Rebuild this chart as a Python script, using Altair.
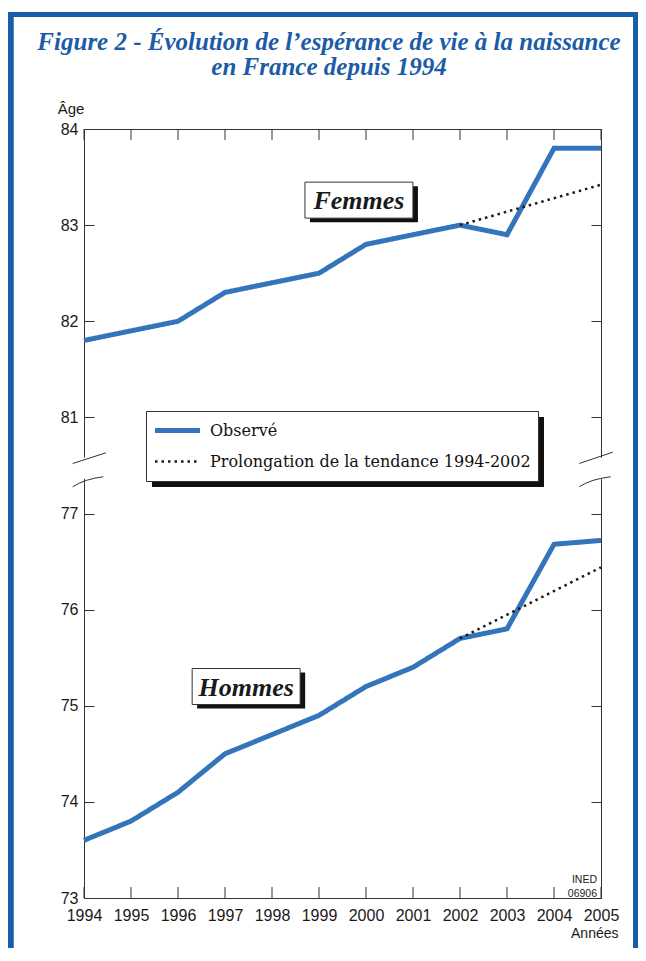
import altair as alt
import pandas as pd

# ---------------- data ----------------
years = list(range(1994, 2006))
femmes_obs = [81.8, 81.9, 82.0, 82.3, 82.4, 82.5, 82.8, 82.9, 83.0, 82.9, 83.8, 83.8]
hommes_obs = [73.6, 73.8, 74.1, 74.5, 74.7, 74.9, 75.2, 75.4, 75.7, 75.8, 76.68, 76.72]
trend_years = [2002, 2005]
femmes_trend = [83.0, 83.42]
hommes_trend = [75.7, 76.44]
series = ["Observé", "Prolongation de la tendance 1994-2002"]
label_names = ["Femmes", "Hommes"]
label_years = [1999.85, 1997.45]
label_values = [83.26, 75.2]
# axis positions (after the break, 78..81 stand for 81..84)
y_tick_values = [73, 74, 75, 76, 77, 78, 79, 80, 81]
break_sides = [1994, 2005]
title_lines = ["Figure 2 - Évolution de l’espérance de vie à la naissance",
               "en France depuis 1994"]
source_lines = ["INED", "06906"]

BLUE = "#3474ba"
FRAME_BLUE = "#1660ab"
TITLE_BLUE = "#1c5ca6"
DARK = "#333333"
W, H = 517, 769
TICK = 11

# Femmes values are drawn 3 units lower: the axis is broken between 77 and 81
calc = "datum.sexe == 'Femmes' ? datum.valeur - 3 : datum.valeur"

obs_df = pd.DataFrame({
    "annee": years + years,
    "valeur": femmes_obs + hommes_obs,
    "sexe": ["Femmes"] * len(years) + ["Hommes"] * len(years),
    "serie": series[0],
})
trend_df = pd.DataFrame({
    "annee": trend_years + trend_years,
    "valeur": femmes_trend + hommes_trend,
    "sexe": ["Femmes"] * len(trend_years) + ["Hommes"] * len(trend_years),
    "serie": series[1],
})
lab_df = pd.DataFrame({"sexe": label_names, "annee": label_years, "valeur": label_values})
side_df = pd.DataFrame({"annee": break_sides})
years_df = pd.DataFrame({"annee": years})
one = pd.DataFrame({"k": [0]})

xs = alt.Scale(domain=[1994, 2005], nice=False, zero=False)
ys = alt.Scale(domain=[73, 81], nice=False, zero=False)

common_axis = dict(domain=False, grid=False, tickColor=DARK, tickWidth=1,
                   labelFont="Liberation Sans", labelFontSize=16, labelColor="#1a1a1a")

axis_bottom = alt.Axis(orient="bottom", values=years, format="d", ticks=False,
                       labelPadding=9, labelFlush=False, labelOverlap=False,
                       title="Années", titleX=534, titleY=39, titleAlign="right",
                       titleBaseline="alphabetic", titleFont="Liberation Sans",
                       titleFontSize=14, titleFontWeight="normal", titleColor="#1a1a1a",
                       domain=False, grid=False, labelFont="Liberation Sans",
                       labelFontSize=16, labelColor="#1a1a1a")
axis_left = alt.Axis(orient="left", values=y_tick_values, offset=-10, tickSize=10,
                     labelPadding=6,
                     labelExpr="datum.value > 77.5 ? datum.value + 3 : datum.value",
                     title="Âge", titleAngle=0, titleX=-23.5, titleY=-16,
                     titleAlign="center", titleBaseline="alphabetic",
                     titleFont="Liberation Sans", titleFontSize=15,
                     titleFontWeight="normal", titleColor="#1a1a1a",
                     **common_axis)
axis_right = alt.Axis(orient="right", values=y_tick_values, offset=-10, tickSize=10,
                      labels=False, title=None, **common_axis)

legend = alt.Legend(title=None, orient="none", legendX=62, legendY=282,
                    direction="vertical", symbolType="stroke", symbolSize=2025,
                    clipHeight=26, rowPadding=5, padding=6.5, labelOffset=7.5,
                    labelFont="DejaVu Serif", labelFontSize=16, labelColor="#111111",
                    labelLimit=600, strokeColor=DARK, fillColor="white")

color = alt.Color("serie:N", scale=alt.Scale(domain=series, range=[BLUE, "#1a1a1a"]), legend=legend)
dash = alt.StrokeDash("serie:N", scale=alt.Scale(domain=series, range=[[1, 0], [2.5, 4]]), legend=legend)
sw = alt.StrokeWidth("serie:N", scale=alt.Scale(type="ordinal", domain=series, range=[5, 2.5]),
                     legend=legend)

# legend shadow (drawn under the legend box)
legend_shadow = alt.Chart(one).mark_rect(color="#111111").encode(
    x=alt.value(68), x2=alt.value(460), y=alt.value(288), y2=alt.value(358))

# year ticks, pointing inward, at the top and bottom of the frame
ticks_bottom = alt.Chart(years_df).mark_rule(color=DARK, strokeWidth=1).encode(
    x=alt.X("annee:Q", scale=xs, axis=axis_bottom),
    y=alt.value(H - TICK), y2=alt.value(H))
ticks_top = alt.Chart(years_df).mark_rule(color=DARK, strokeWidth=1).encode(
    x=alt.X("annee:Q", scale=xs, axis=None),
    y=alt.value(0), y2=alt.value(TICK))

observed = alt.Chart(obs_df).transform_calculate(y=calc).mark_line(strokeJoin="miter").encode(
    x=alt.X("annee:Q", scale=xs, axis=None),
    y=alt.Y("y:Q", scale=ys, axis=axis_left),
    color=color, strokeDash=dash, strokeWidth=sw, detail="sexe:N")

trend = alt.Chart(trend_df).transform_calculate(y=calc).mark_line(strokeCap="butt").encode(
    x=alt.X("annee:Q", scale=xs, axis=None),
    y=alt.Y("y:Q", scale=ys, axis=axis_right),
    color=color, strokeDash=dash, strokeWidth=sw, detail="sexe:N")

BOX = "M-1,-0.3333L1,-0.3333L1,0.3333L-1,0.3333Z"
lab_base = alt.Chart(lab_df).transform_calculate(y=calc)
lab_enc = dict(x=alt.X("annee:Q", scale=xs, axis=None), y=alt.Y("y:Q", scale=ys, axis=None))
box_shadow = lab_base.mark_point(shape=BOX, size=11664, filled=True, color="#111111",
                                 opacity=1, xOffset=5, yOffset=4).encode(**lab_enc)
box = lab_base.mark_point(shape=BOX, size=11664, filled=True, fill="white", stroke=DARK,
                          strokeWidth=1, opacity=1).encode(**lab_enc)
box_text = lab_base.mark_text(font="Liberation Serif", fontStyle="italic", fontWeight="bold",
                              fontSize=26, color="#1a1a1a", baseline="middle", dy=1).encode(
    text="sexe:N", **lab_enc)

# axis break: gap in frame and break marks
BRK = 77.458
gap = alt.Chart(side_df).mark_rule(color="white", strokeWidth=5).encode(
    x=alt.X("annee:Q", scale=xs, axis=None),
    y=alt.YDatum(77.36, type="quantitative", axis=None),
    y2=alt.Y2Datum(77.58))

def brk(xv, path):
    return alt.Chart(one).mark_point(shape=path, size=1600, filled=False, color=DARK,
                                     strokeWidth=1, opacity=1).encode(
        x=alt.XDatum(xv, type="quantitative", axis=None),
        y=alt.YDatum(BRK, type="quantitative", axis=None))

breaks = [
    brk(1994, "M-0.565,-0.3L1.1,-0.835"),
    brk(1994, "M-0.565,0.865Q0.032,0.477 0.965,0.365"),
    brk(2005, "M-1.085,-0.3L0.585,-0.865"),
    brk(2005, "M-1.085,0.865Q-0.5,0.477 0.485,0.365"),
]

source = alt.Chart(one).mark_text(text=source_lines, align="right", baseline="alphabetic",
                                  font="Liberation Sans", fontSize=10.5, lineHeight=14,
                                  color="#222222", dx=-4, dy=-15).encode(
    x=alt.XDatum(2005, type="quantitative", axis=None),
    y=alt.YDatum(73, type="quantitative", axis=None))

title = alt.Chart(one).mark_text(text=title_lines, align="center", baseline="alphabetic",
                                 font="Liberation Serif", fontStyle="italic",
                                 fontWeight="bold", fontSize=25, lineHeight=25,
                                 color=TITLE_BLUE).encode(x=alt.value(245), y=alt.value(-79))

frame_left = alt.Chart(one).mark_rule(color=FRAME_BLUE, strokeWidth=6.5, strokeCap="butt").encode(
    x=alt.value(-73.5), y=alt.value(-117), y2=alt.value(840))
frame_right = alt.Chart(one).mark_rule(color=FRAME_BLUE, strokeWidth=5, strokeCap="butt").encode(
    x=alt.value(551.5), y=alt.value(-117), y2=alt.value(840))
frame_top = alt.Chart(one).mark_rule(color=FRAME_BLUE, strokeWidth=5, strokeCap="butt").encode(
    x=alt.value(-77), x2=alt.value(554), y=alt.value(-114.5))

chart = alt.layer(
    legend_shadow, ticks_bottom, ticks_top, observed, trend, box_shadow, box, box_text, gap,
    *breaks, source, title, frame_left, frame_right, frame_top,
).resolve_axis(x="independent", y="independent").properties(
    width=W, height=H,
    autosize=alt.AutoSizeParams(type="none"),
    padding={"left": 76, "top": 121, "right": 37, "bottom": 50},
    background="white",
).configure_view(stroke=DARK, strokeWidth=1)

chart.save("out.html", embed_options={"renderer": "svg", "actions": False})
